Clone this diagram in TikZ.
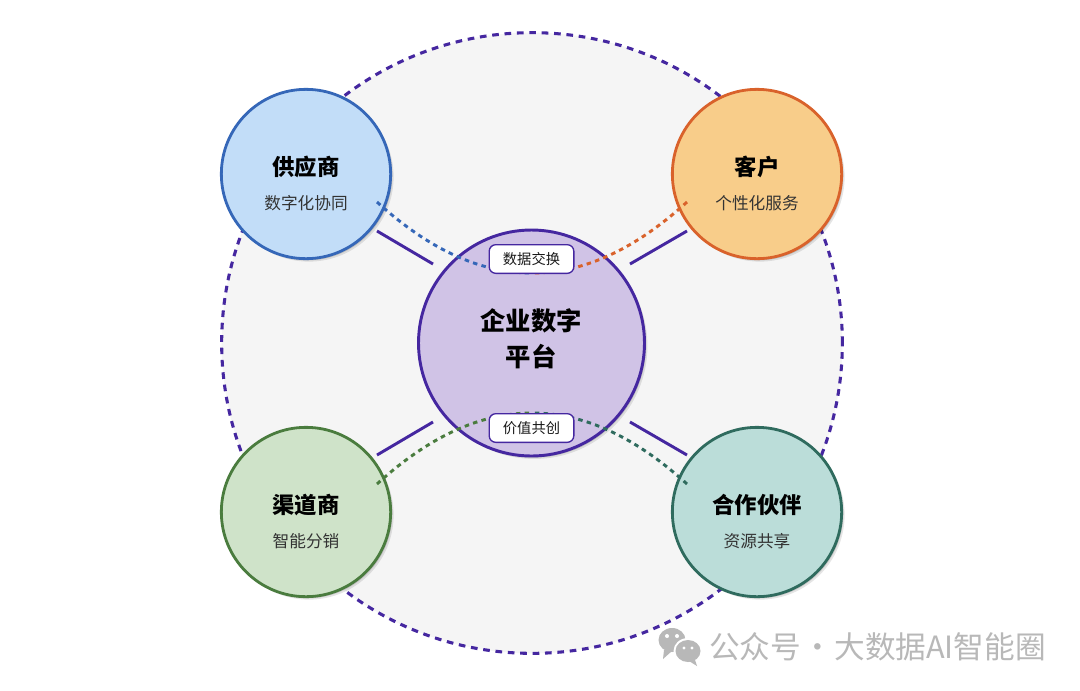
\documentclass[tikz,border=0pt]{standalone}
\usepackage{fontspec}
\setmainfont{Noto Sans CJK SC}
\usetikzlibrary{shadows,calc}
\definecolor{bgc}{HTML}{F5F5F5}
\definecolor{rimc}{HTML}{4527A0}
\definecolor{bluef}{HTML}{C2DDF8}\definecolor{blues}{HTML}{3567B8}
\definecolor{orf}{HTML}{F8CD8A}\definecolor{ors}{HTML}{D9622B}
\definecolor{grf}{HTML}{CFE3C9}\definecolor{grs}{HTML}{4A7C3E}
\definecolor{tef}{HTML}{BBDDD9}\definecolor{tes}{HTML}{2F6B5E}
\definecolor{puf}{HTML}{D0C3E6}
\definecolor{wm}{HTML}{B8B8B8}
\tikzset{
  x=0.75pt,y=-0.75pt,
  softshadow/.style={
    drop shadow={shadow xshift=2.2pt,shadow yshift=-2.2pt,opacity=.10,fill=black},
    drop shadow={shadow xshift=1.2pt,shadow yshift=-1.2pt,opacity=.14,fill=black}},
  sat/.style={circle,minimum size=127pt,inner sep=0pt,line width=2.1pt,softshadow},
  hub/.style={circle,minimum size=169.5pt,inner sep=0pt,line width=2.2pt,draw=rimc,fill=puf,softshadow},
  ttl/.style={font=\fontsize{16.8}{20}\selectfont\bfseries,text=black},
  sub/.style={font=\fontsize{12.5}{15}\selectfont,text=black!80},
  pill/.style={rounded corners=5pt,draw=rimc,line width=1pt,fill=white,minimum width=63.5pt,minimum height=21.5pt,inner sep=0pt,font=\fontsize{10.7}{12}\selectfont,text=black!90},
  tie/.style={draw=rimc,line width=2.2pt},
  flow/.style={line width=2.2pt,dash pattern=on 3.4pt off 3.2pt},
}
\begin{document}
\begin{tikzpicture}
\useasboundingbox (0,0) rectangle (1080,690);
\fill[white] (0,0) rectangle (1080,690);
% outer ring
\node (ring) at (532,343) [circle,minimum size=465.5pt,inner sep=0pt,fill=bgc,draw=rimc,line width=2.3pt,dash pattern=on 5pt off 4.3pt] {};
% coordinates for connector ends
\coordinate (la) at (377,231); \coordinate (lb) at (433,264);
\coordinate (ra) at (687,231); \coordinate (rb) at (630,264);
\coordinate (lc) at (377,455); \coordinate (ld) at (433,422);
\coordinate (rc) at (687,455); \coordinate (rd) at (630,422);
\coordinate (fa) at (377,202); \coordinate (fb) at (687,202);
\coordinate (fc) at (377,484); \coordinate (fd) at (687,484);
\coordinate (ftop) at (532,273); \coordinate (fbot) at (532,413);
% satellites
\node (sup) at (306,174) [sat,draw=blues,fill=bluef] {};
\node (cus) at (757,174) [sat,draw=ors,fill=orf] {};
\node (cha) at (306,512) [sat,draw=grs,fill=grf] {};
\node (par) at (757,512) [sat,draw=tes,fill=tef] {};
\node (hubc) at (531.5,343) [hub] {};
% solid ties
\draw[tie] (la) -- (lb);
\draw[tie] (ra) -- (rb);
\draw[tie] (lc) -- (ld);
\draw[tie] (rc) -- (rd);
% dashed flows
\draw[flow,draw=blues] (fa) .. controls (429,249.3) and (480,273) .. (ftop);
\draw[flow,draw=ors] (fb) .. controls (635,249.3) and (584,273) .. (ftop);
\draw[flow,draw=grs] (fc) .. controls (429,436.7) and (480,413) .. (fbot);
\draw[flow,draw=tes] (fd) .. controls (635,436.7) and (584,413) .. (fbot);
% labels
\node (t1) at (306,166.5) [ttl] {供应商};
\node (s1) at (306,203.5) [sub] {数字化协同};
\node (t2) at (757,166.5) [ttl] {客户};
\node (s2) at (757,203.5) [sub] {个性化服务};
\node (t3) at (306,504.5) [ttl] {渠道商};
\node (s3) at (306,541.5) [sub] {智能分销};
\node (t4) at (757,504.5) [ttl] {合作伙伴};
\node (s4) at (757,541.5) [sub] {资源共享};
\node (hubt) at (531,339) [align=center,font=\fontsize{19}{27}\selectfont\bfseries,text=black] {企业数字\\平台};
\node (p1) at (531.5,259) [pill] {数据交换};
\node (p2) at (531.5,428) [pill] {价值共创};
% watermark icon
\fill[wm] (672,640) ellipse (13.5 and 12);
\fill[wm] (664,650) -- (663,659) -- (672,651) -- cycle;
\fill[white] (688,651) ellipse (14.5 and 13);
\fill[wm] (688,651) ellipse (12.5 and 11);
\fill[wm] (695,660) -- (697,666) -- (689,661) -- cycle;
\fill[white] (667,636) circle (2) (677,636) circle (2) (684,648) circle (1.6) (692,648) circle (1.6);
\node (wmt) at (877.5,647) [font=\fontsize{23}{26}\selectfont,text=wm,inner sep=0pt] {公众号\kern1pt·\kern1pt大数据AI智能圈};
\end{tikzpicture}
\end{document}
